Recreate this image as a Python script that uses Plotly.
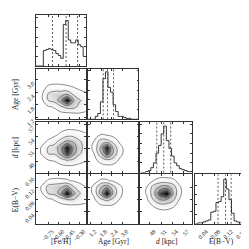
import numpy as np
import plotly.graph_objects as go

# ---------------- data ----------------
param_labels = ["[Fe/H]", "Age [Gyr]", "<i>d</i> [kpc]", "E(B−V)"]

# axis ranges (x for columns, y for rows)
feh_range_x = [-0.924, -0.213]
age_range_x = [1.03, 3.90]
age_range_y = [1.105, 3.52]
d_range_x = [45.45, 59.4]
d_range_y = [45.2, 57.55]
e_range_x = [0.0182, 0.1834]
e_range_y = [0.0, 0.162]

feh_ticks = [-0.75, -0.60, -0.45, -0.30]
feh_ticktext = ["−0.75", "−0.60", "−0.45", "−0.30"]
age_ticks = [1.2, 1.8, 2.4, 3.0]
age_ticktext = ["1.2", "1.8", "2.4", "3.0"]
d_ticks = [48, 51, 54, 57]
d_ticktext = ["48", "51", "54", "57"]
e_ticks = [0.04, 0.08, 0.12, 0.16]
e_ticktext = ["0.04", "0.08", "0.12", "0.16"]

# 1D histograms (20 bins across each axis range)
feh_counts = [0, 0, 0, 16, 17, 18, 17, 16, 13, 11, 8, 43, 47, 27, 24, 24, 27, 22, 20, 10]
age_counts = [0, 0, 0, 3, 6, 18, 42, 49, 33, 28, 15, 8, 3, 3, 2, 1, 1, 0, 0, 0]
d_counts = [0, 0, 1, 2, 5, 10, 20, 28, 40, 48, 33, 25, 17, 10, 7, 4, 3, 2, 1, 1]
e_counts = [0, 1, 1, 2, 3, 4, 12, 13, 22, 23, 28, 46, 36, 25, 11, 3, 2, 1, 0, 0]
hist_tops = [53, 52, 52, 51]

# 16/50/84 percent quantiles
feh_q = [-0.687, -0.493, -0.329]
age_q = [1.91, 2.15, 2.49]
d_q = [49.83, 51.71, 53.59]
e_q = [0.0908, 0.1148, 0.1326]

# 2D relative densities on a 9x9 grid over each panel (rows listed top -> bottom)
age_feh = [
    [0, 0, 0, 0, 0, 0, 0, 0, 0],
    [0, 0, 0, 0, 0, 0, 0, 0, 0],
    [0, 0, 0.02, 0.03, 0.03, 0.02, 0.01, 0, 0],
    [0, 0.02, 0.12, 0.15, 0.14, 0.12, 0.09, 0.05, 0.03],
    [0, 0.06, 0.30, 0.38, 0.40, 0.45, 0.25, 0.15, 0.10],
    [0, 0.05, 0.28, 0.35, 0.60, 1.00, 0.50, 0.30, 0.20],
    [0, 0.01, 0.06, 0.10, 0.25, 0.35, 0.35, 0.22, 0.15],
    [0, 0, 0, 0.02, 0.04, 0.06, 0.08, 0.08, 0.06],
    [0, 0, 0, 0, 0, 0, 0, 0, 0],
]
d_feh = [
    [0, 0, 0, 0, 0, 0, 0, 0, 0],
    [0, 0, 0, 0, 0.02, 0.05, 0.05, 0.04, 0.03],
    [0, 0, 0.01, 0.04, 0.12, 0.20, 0.20, 0.15, 0.10],
    [0, 0.03, 0.10, 0.20, 0.35, 0.50, 0.45, 0.30, 0.18],
    [0, 0.10, 0.30, 0.35, 0.60, 0.95, 0.60, 0.35, 0.20],
    [0, 0.10, 0.28, 0.30, 0.55, 0.85, 0.55, 0.30, 0.18],
    [0, 0.02, 0.08, 0.10, 0.20, 0.30, 0.25, 0.15, 0.10],
    [0, 0, 0, 0.01, 0.03, 0.05, 0.05, 0.03, 0.02],
    [0, 0, 0, 0, 0, 0, 0, 0, 0],
]
e_feh = [
    [0, 0, 0, 0, 0, 0, 0, 0, 0],
    [0, 0.02, 0.10, 0.12, 0.12, 0.10, 0.06, 0.03, 0.02],
    [0, 0.10, 0.35, 0.40, 0.45, 0.55, 0.30, 0.15, 0.08],
    [0, 0.08, 0.30, 0.35, 0.60, 1.00, 0.55, 0.30, 0.15],
    [0, 0.01, 0.05, 0.10, 0.20, 0.30, 0.30, 0.20, 0.12],
    [0, 0, 0, 0.01, 0.03, 0.05, 0.06, 0.06, 0.06],
    [0, 0, 0, 0, 0, 0, 0, 0.01, 0.01],
    [0, 0, 0, 0, 0, 0, 0, 0, 0],
    [0, 0, 0, 0, 0, 0, 0, 0, 0],
]
d_age = [
    [0, 0, 0, 0, 0, 0, 0, 0, 0],
    [0, 0, 0, 0, 0, 0, 0, 0, 0],
    [0, 0.01, 0.08, 0.06, 0.02, 0, 0, 0, 0],
    [0, 0.08, 0.35, 0.35, 0.20, 0.05, 0, 0, 0],
    [0, 0.12, 0.50, 0.95, 0.45, 0.14, 0.02, 0, 0],
    [0, 0.08, 0.40, 0.80, 0.45, 0.14, 0.02, 0, 0],
    [0, 0.02, 0.15, 0.25, 0.20, 0.06, 0, 0, 0],
    [0, 0, 0.01, 0.03, 0.02, 0, 0, 0, 0],
    [0, 0, 0, 0, 0, 0, 0, 0, 0],
]
e_age = [
    [0, 0, 0, 0, 0, 0, 0, 0, 0],
    [0, 0.02, 0.10, 0.10, 0.05, 0.01, 0, 0, 0],
    [0, 0.12, 0.45, 0.60, 0.35, 0.12, 0.01, 0, 0],
    [0, 0.12, 0.55, 1.00, 0.45, 0.14, 0.01, 0, 0],
    [0, 0.05, 0.25, 0.35, 0.25, 0.08, 0, 0, 0],
    [0, 0, 0.05, 0.08, 0.06, 0.02, 0, 0, 0],
    [0, 0, 0, 0, 0, 0, 0, 0, 0],
    [0, 0, 0, 0, 0, 0, 0, 0, 0],
    [0, 0, 0, 0, 0, 0, 0, 0, 0],
]
e_d = [
    [0, 0, 0, 0, 0, 0, 0, 0, 0],
    [0, 0.01, 0.08, 0.15, 0.15, 0.12, 0.03, 0, 0],
    [0, 0.08, 0.35, 0.50, 0.55, 0.40, 0.10, 0, 0],
    [0, 0.10, 0.40, 0.80, 1.00, 0.50, 0.12, 0, 0],
    [0, 0.06, 0.30, 0.50, 0.50, 0.35, 0.08, 0, 0],
    [0, 0.01, 0.10, 0.20, 0.20, 0.12, 0.02, 0, 0],
    [0, 0, 0, 0.02, 0.03, 0.01, 0, 0, 0],
    [0, 0, 0, 0, 0, 0, 0, 0, 0],
    [0, 0, 0, 0, 0, 0, 0, 0, 0],
]

# ---------------- layout / drawing ----------------
W = H = 249
cols_px = [(28, 78), (80, 131), (133, 185), (188, 240)]
rows_px = [(7, 60), (63, 115), (118, 170), (172, 223)]

x_ranges = [feh_range_x, age_range_x, d_range_x, e_range_x]
y_ranges = [None, age_range_y, d_range_y, e_range_y]
tickvals = [feh_ticks, age_ticks, d_ticks, e_ticks]
ticktexts = [feh_ticktext, age_ticktext, d_ticktext, e_ticktext]
hists = [feh_counts, age_counts, d_counts, e_counts]
quants = [feh_q, age_q, d_q, e_q]
dens = {(1, 0): age_feh, (2, 0): d_feh, (3, 0): e_feh,
        (2, 1): d_age, (3, 1): e_age, (3, 2): e_d}

FONT = "Liberation Serif"
FRAME = "#333333"
fig = go.Figure()
layout = dict(width=W, height=H, margin=dict(l=0, r=0, t=0, b=0),
              paper_bgcolor="white", plot_bgcolor="white", showlegend=False,
              font=dict(family=FONT, size=6, color="#222"))
shapes = []
annotations = []

gray_scale = [[0, "#ffffff"], [0.07, "#ffffff"], [0.25, "#efefef"],
              [0.5, "#bdbdbd"], [0.72, "#6a6a6a"], [0.9, "#222222"], [1, "#000000"]]

n = 0
for r in range(4):
    for c in range(r + 1):
        n += 1
        xa = "x" if n == 1 else f"x{n}"
        ya = "y" if n == 1 else f"y{n}"
        xkey = "xaxis" if n == 1 else f"xaxis{n}"
        ykey = "yaxis" if n == 1 else f"yaxis{n}"
        common = dict(showline=True, linecolor=FRAME, linewidth=0.8, mirror="allticks",
                      ticks="inside", ticklen=2, tickwidth=0.6, tickcolor=FRAME,
                      showgrid=False, zeroline=False, tickangle=-45,
                      tickfont=dict(family=FONT, size=6, color="#222"))
        layout[xkey] = dict(common, domain=[cols_px[c][0] / W, cols_px[c][1] / W],
                            anchor=ya, range=x_ranges[c], tickmode="array",
                            tickvals=tickvals[c], ticktext=ticktexts[c],
                            showticklabels=(r == 3), ticklabelshift=4,
                            ticklabelstandoff=1)
        if r == c:
            counts = hists[c]
            lo, hi = x_ranges[c]
            edges = np.linspace(lo, hi, len(counts) + 1)
            fig.add_trace(go.Scatter(x=edges, y=list(counts) + [counts[-1]], mode="lines",
                                     line=dict(shape="hv", color="#222", width=0.9),
                                     xaxis=xa, yaxis=ya, hoverinfo="skip"))
            layout[ykey] = dict(common, domain=[1 - rows_px[r][1] / H, 1 - rows_px[r][0] / H],
                                anchor=xa, range=[0, hist_tops[c]], nticks=6,
                                showticklabels=False)
            for q in quants[c]:
                shapes.append(dict(type="line", xref=xa, yref=f"{ya} domain",
                                   x0=q, x1=q, y0=0, y1=1,
                                   line=dict(color="#333", width=0.8, dash="2px,2px")))
        else:
            Z = np.array(dens[(r, c)])[::-1]
            xl, xh = x_ranges[c]
            yl, yh = y_ranges[r]
            gx = xl + np.linspace(0, 1, Z.shape[1]) * (xh - xl)
            gy = yl + np.linspace(0, 1, Z.shape[0]) * (yh - yl)
            fig.add_trace(go.Contour(x=gx, y=gy, z=Z, colorscale=gray_scale, zmin=0, zmax=1,
                                     showscale=False, hoverinfo="skip",
                                     contours=dict(start=0.08, end=0.68, size=0.2,
                                                   coloring="heatmap"),
                                     line=dict(color="#555", width=0.7, smoothing=1.3),
                                     xaxis=xa, yaxis=ya))
            layout[ykey] = dict(common, domain=[1 - rows_px[r][1] / H, 1 - rows_px[r][0] / H],
                                anchor=xa, range=y_ranges[r], tickmode="array",
                                tickvals=tickvals[r], ticktext=ticktexts[r],
                                showticklabels=(c == 0), ticklabelshift=3,
                                ticklabelstandoff=1)

# axis titles
for c in range(4):
    cx = (cols_px[c][0] + cols_px[c][1]) / 2 / W
    annotations.append(dict(text=param_labels[c], x=cx, y=1 - 241 / H, xref="paper", yref="paper",
                            showarrow=False, font=dict(family=FONT, size=7.5, color="#222"),
                            xanchor="center", yanchor="middle"))
for r in range(1, 4):
    cy = 1 - (rows_px[r][0] + rows_px[r][1]) / 2 / H
    annotations.append(dict(text=param_labels[r], x=7 / W, y=cy, xref="paper", yref="paper",
                            showarrow=False, textangle=-90,
                            font=dict(family=FONT, size=7.5, color="#222"),
                            xanchor="center", yanchor="middle"))

layout["shapes"] = shapes
layout["annotations"] = annotations
fig.update_layout(**layout)
fig.write_html("out.html")
